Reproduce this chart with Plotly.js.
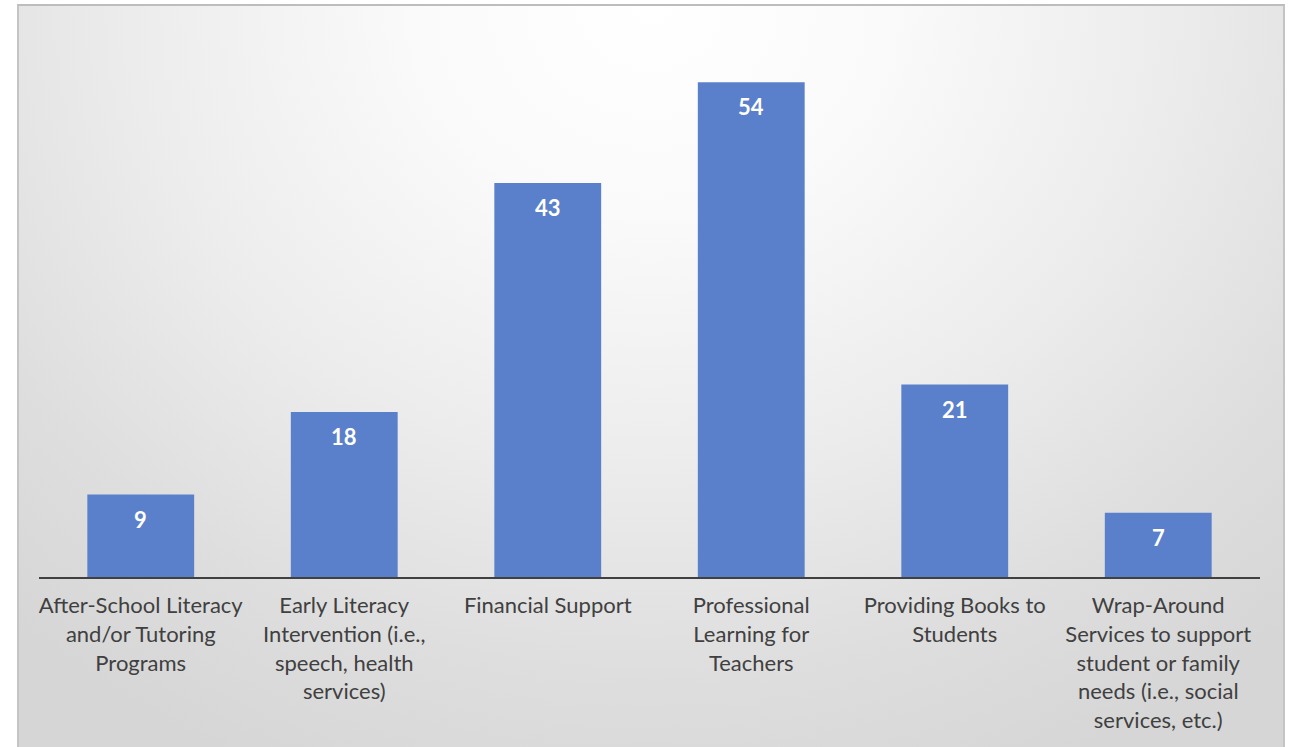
<!DOCTYPE html>
<html>
<head>
<meta charset="utf-8">
<script src="https://cdn.plot.ly/plotly-3.0.1.min.js"></script>
<style>
  html, body { margin: 0; padding: 0; background: #ffffff; overflow: hidden; }
  #bg {
    position: absolute; left: 17px; top: 4px; width: 1264px; height: 760px;
    border-top: 2px solid #bdbdbd; border-left: 2px solid #c4c4c4; border-right: 2px solid #c4c4c4;
    background: radial-gradient(ellipse 75% 110% at 50% 0%, #ffffff 0%, #fafafa 25%, #ececec 55%, #dedede 80%, #d6d6d6 100%);
  }
  #chart { position: absolute; left: 0; top: 0; width: 1292px; height: 747px; }
</style>
</head>
<body>
<div id="bg"></div>
<div id="chart"></div>
<script>
const categories = [
  "After-School Literacy<br>and/or Tutoring<br>Programs",
  "Early Literacy<br>Intervention (i.e.,<br>speech, health<br>services)",
  "Financial Support",
  "Professional<br>Learning for<br>Teachers",
  "Providing Books to<br>Students",
  "Wrap-Around<br>Services to support<br>student or family<br>needs (i.e., social<br>services, etc.)"
];
const values = [9, 18, 43, 54, 21, 7];
const valueLabels = values.map(String);

const trace = {
  type: 'bar',
  x: categories,
  y: values,
  marker: { color: '#5b80cb' },
  hoverinfo: 'none'
};

const annotations = categories.map((c, i) => ({
  x: c, y: values[i], xref: 'x', yref: 'y',
  text: '<b>' + valueLabels[i] + '</b>',
  showarrow: false, yanchor: 'top', yshift: -9,
  font: { family: 'Lato, "Open Sans", sans-serif', size: 22, color: '#ffffff' }
}));

const layout = {
  width: 1292, height: 747,
  margin: { l: 39, r: 32, t: 40, b: 170 },
  paper_bgcolor: 'rgba(0,0,0,0)',
  plot_bgcolor: 'rgba(0,0,0,0)',
  bargap: 0.475,
  showlegend: false,
  xaxis: {
    type: 'category',
    showline: true, linecolor: '#404040', linewidth: 2,
    showgrid: false, zeroline: false, ticks: '',
    ticklabelstandoff: 8,
    tickfont: { family: 'Lato, "Open Sans", sans-serif', size: 22, color: '#404040' },
    automargin: false
  },
  yaxis: {
    range: [0, 58.6], visible: false, showgrid: false, zeroline: false
  },
  annotations: annotations
};

Plotly.newPlot('chart', [trace], layout, { staticPlot: true, displayModeBar: false });
</script>
</body>
</html>
